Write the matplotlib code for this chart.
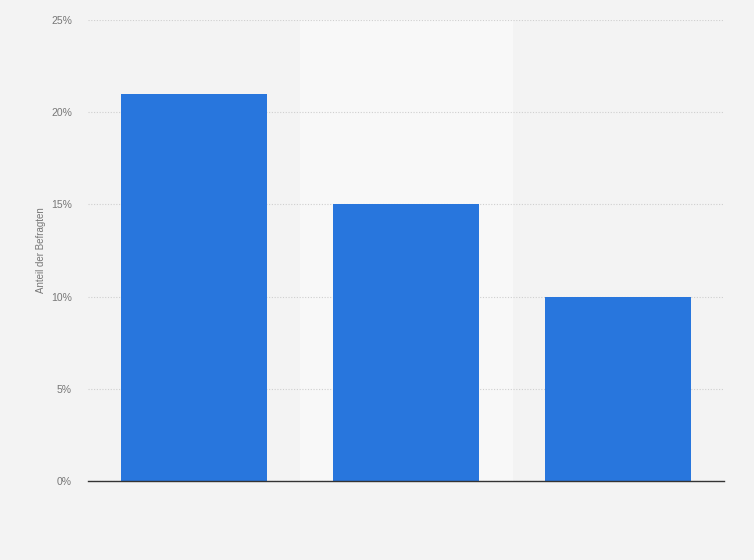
import matplotlib.pyplot as plt
from matplotlib.ticker import FuncFormatter

plt.rcParams['font.family'] = ['Liberation Sans', 'DejaVu Sans']

# Survey shares (percent)
categories = ["A", "B", "C"]
values = [21, 15, 10]
y_ticks = [0, 5, 10, 15, 20, 25]

fig = plt.figure(figsize=(7.54, 5.6), dpi=100, facecolor="#f3f3f3")
ax = fig.add_axes([88 / 754, 79 / 560, 636 / 754, 461 / 560])
ax.set_facecolor("#f3f3f3")

x = list(range(len(categories)))
# lighter band behind the middle column
ax.axvspan(0.5, 1.5, color="#f8f8f8", zorder=0)

ax.bar(x, values, width=0.69, color="#2876dd", zorder=3)

ax.set_xlim(-0.5, len(categories) - 0.5)
ax.set_ylim(0, 25)
ax.set_yticks(y_ticks)
ax.yaxis.set_major_formatter(FuncFormatter(lambda v, p: f"{v:.0f}%"))
ax.set_xticks([])
ax.tick_params(axis="y", length=0, pad=11.5, labelsize=7.5, labelcolor="#777777")
ax.grid(axis="y", color="#cfcfcf", linestyle=(0, (1, 1.5)), linewidth=0.8, zorder=1)

for side in ["top", "right", "left"]:
    ax.spines[side].set_visible(False)
ax.spines["bottom"].set_color("#333333")
ax.spines["bottom"].set_linewidth(1.0)
ax.spines["bottom"].set_zorder(4)

ax.set_ylabel("Anteil der Befragten", fontsize=7, color="#777777", labelpad=4)

fig.savefig("out.png", dpi=100, facecolor=fig.get_facecolor())
